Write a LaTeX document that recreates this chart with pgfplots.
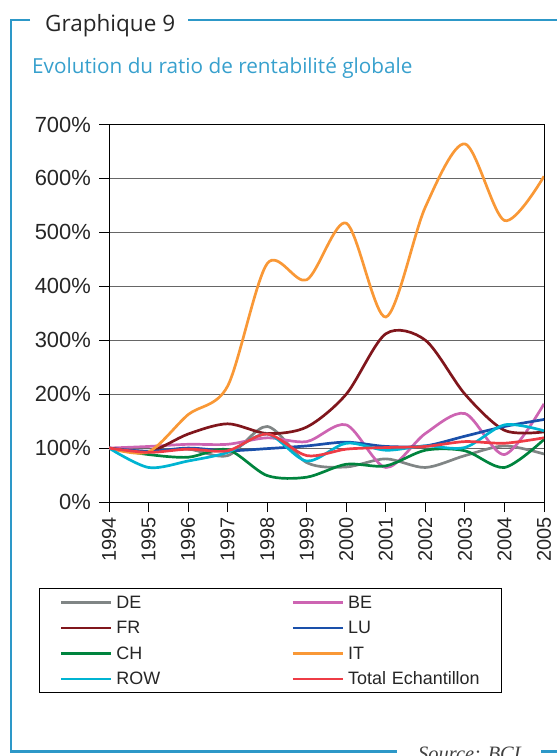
\documentclass[border=0pt]{standalone}
\usepackage{fontspec}
\setmainfont{Liberation Sans}
\newfontfamily\titlefont{Open Sans}
\newfontfamily\srcfont{Liberation Serif}
\usepackage{pgfplots}
\pgfplotsset{compat=1.18}
\definecolor{framec}{RGB}{45,152,200}
\definecolor{subc}{RGB}{55,160,205}
\definecolor{cDE}{RGB}{128,133,133}
\definecolor{cBE}{RGB}{205,100,178}
\definecolor{cFR}{RGB}{128,22,28}
\definecolor{cLU}{RGB}{26,80,170}
\definecolor{cCH}{RGB}{0,132,62}
\definecolor{cIT}{RGB}{249,152,54}
\definecolor{cROW}{RGB}{0,180,210}
\definecolor{cTOT}{RGB}{238,60,70}
\begin{document}
\begin{tikzpicture}
\path[use as bounding box] (0,0) rectangle (557bp,756bp);
\draw[framec, line width=2.5bp] (30bp,736bp) -- (11bp,736bp) -- (11bp,4.3bp) -- (397bp,4.3bp);
\draw[framec, line width=2.5bp] (188bp,736bp) -- (557bp,736bp);
\draw[framec, line width=2.5bp] (541bp,4.3bp) -- (557bp,4.3bp);
\node[anchor=base west, inner sep=0pt, text=black!85] at (45bp,724.3bp) {\titlefont\fontsize{22.6}{26}\selectfont Graphique 9};
\node[anchor=base west, inner sep=0pt, text=subc] at (32bp,682bp) {\titlefont\fontsize{20.8}{24}\selectfont Evolution du ratio de rentabilité globale};
\node[anchor=base west, inner sep=0pt, text=black!75] at (418bp,-4bp) {\srcfont\itshape\fontsize{20.5}{24}\selectfont Source: BCL};
\begin{axis}[
  at={(109bp,254bp)}, anchor=south west,
  scale only axis, width=435bp, height=377.5bp,
  xmin=1994, xmax=2005, ymin=0, ymax=700,
  xtick={1994,1995,1996,1997,1998,1999,2000,2001,2002,2003,2004,2005},
  xticklabels={1994,1995,1996,1997,1998,1999,2000,2001,2002,2003,2004,2005},
  ytick={0,100,200,300,400,500,600,700},
  yticklabels={0\%,100\%,200\%,300\%,400\%,500\%,600\%,700\%},
  xtick pos=bottom, ytick pos=left,
  tick align=outside, major tick length=10bp,
  tick style={black, line width=0.9bp},
  axis line style={black, line width=1bp},
  ymajorgrids, grid style={black!60, line width=0.9bp},
  yticklabel style={font=\fontsize{22}{24}\selectfont, inner sep=0pt, xshift=-8bp, text=black!85},
  xticklabel style={font=\fontsize{20}{24}\selectfont, yshift=-5bp, rotate=90, anchor=east, inner sep=0pt, text=black!85},
  every axis plot/.append style={line width=2.7bp, smooth},
  legend columns=2, legend cell align=left,
  legend image code/.code={\draw[#1] (0bp,0bp) -- (50bp,0bp);},
  legend style={at={(-0.1609,-0.2278)}, anchor=north west, draw=black, line width=0.8bp,
    inner xsep=20.3bp, inner ysep=5.5bp, row sep=8.5bp,
    font=\fontsize{18}{20}\selectfont, text=black!85,
    nodes={inner sep=0pt, text width=133bp, text height=14.5bp, text depth=2.5bp},
    /tikz/every odd column/.append style={column sep=4bp},
    /tikz/every even column/.append style={column sep=42bp}},
]
\addplot[cDE] coordinates {(1994,100)(1995,94)(1996,98)(1997,86)(1998,140)(1999,73)(2000,65)(2001,80)(2002,64)(2003,86)(2004,104)(2005,89)};
\addlegendentry{DE}
\addplot[cBE] coordinates {(1994,100)(1995,103)(1996,107)(1997,107)(1998,119)(1999,112)(2000,143)(2001,64)(2002,127)(2003,164)(2004,88)(2005,182)};
\addlegendentry{BE}
\addplot[cFR] coordinates {(1994,100)(1995,93)(1996,126)(1997,145)(1998,127)(1999,139)(2000,200)(2001,312)(2002,300)(2003,200)(2004,133)(2005,130)};
\addlegendentry{FR}
\addplot[cLU] coordinates {(1994,100)(1995,94)(1996,100)(1997,95)(1998,99)(1999,104)(2000,111)(2001,103)(2002,104)(2003,122)(2004,140)(2005,153)};
\addlegendentry{LU}
\addplot[cCH] coordinates {(1994,100)(1995,88)(1996,83)(1997,97)(1998,49)(1999,46)(2000,70)(2001,67)(2002,96)(2003,95)(2004,64)(2005,116)};
\addlegendentry{CH}
\addplot[cIT] coordinates {(1994,100)(1995,93)(1996,162)(1997,215)(1998,442)(1999,412)(2000,517)(2001,343)(2002,547)(2003,664)(2004,522)(2005,604)};
\addlegendentry{IT}
\addplot[cROW] coordinates {(1994,100)(1995,64)(1996,76)(1997,92)(1998,126)(1999,76)(2000,109)(2001,96)(2002,104)(2003,101)(2004,143)(2005,132)};
\addlegendentry{ROW}
\addplot[cTOT] coordinates {(1994,100)(1995,92)(1996,98)(1997,95)(1998,126)(1999,86)(2000,98)(2001,101)(2002,103)(2003,112)(2004,109)(2005,119)};
\addlegendentry{Total Echantillon}
\end{axis}
\end{tikzpicture}
\end{document}
